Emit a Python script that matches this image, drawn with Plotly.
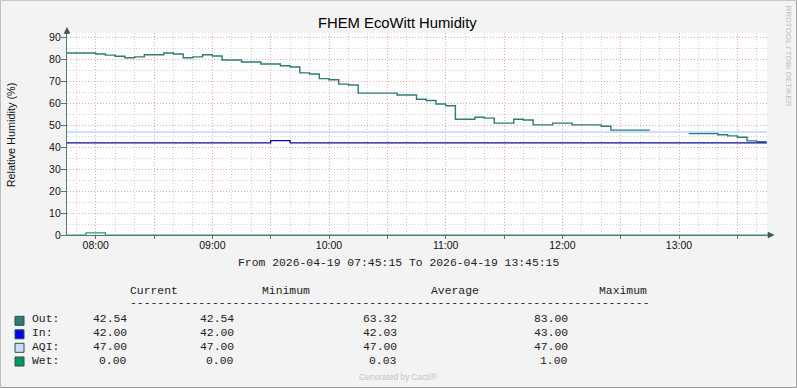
import pandas as pd
import plotly.graph_objects as go

# ---------------- data ----------------
out_start = "2026-04-19 07:45"
out_values = [
    83.0, 83.0, 83.0,                                               # 07:45-07:55
    82.5, 82.0, 81.5, 80.8, 81.2, 82.2, 82.2, 83.0, 82.5, 80.8, 81.2, 82.2,  # 08:xx
    81.6, 79.8, 79.8, 78.9, 78.9, 78.0, 78.0, 77.2, 76.6, 73.9, 73.4, 71.3,  # 09:xx
    70.8, 68.8, 68.4, 64.7, 64.7, 64.7, 64.7, 63.8, 63.8, 61.9, 61.3, 59.7,  # 10:xx
    58.9, 52.8, 52.8, 53.7, 53.3, 51.0, 51.0, 52.8, 52.4, 50.2, 50.2, 51.0,  # 11:xx
    51.0, 50.2, 50.2, 50.2, 49.6, 47.8, 47.8, 47.8, 47.8, 47.8, None, None,  # 12:xx
    None, 46.3, 46.3, 46.3, 45.7, 45.2, 44.6, 42.9, 42.5, 42.5,              # 13:00-13:45
]
out_times = pd.date_range(out_start, periods=len(out_values), freq="5min")

in_times = ["2026-04-19 07:45", "2026-04-19 09:30", "2026-04-19 09:40", "2026-04-19 13:45:15"]
in_values = [42, 43, 42, 42]

aqi_times = ["2026-04-19 07:45", "2026-04-19 13:45:15"]
aqi_values = [47, 47]

wet_times = ["2026-04-19 07:45", "2026-04-19 07:55", "2026-04-19 08:05", "2026-04-19 13:45:15"]
wet_values = [0, 1, 0, 0]

series_names = ["Out:", "In:", "AQI:", "Wet:"]
series_colors = ["#2E7B78", "#0000FF", "#C6E0FF", "#00966A"]
line_colors = ["#2E7B78", "#0A0AA0", "#B4D8FF", "#1F9C74"]
stat_headers = ["Current", "Minimum", "Average", "Maximum"]
stat_current = ["42.54", "42.00", "47.00", "0.00"]
stat_minimum = ["42.54", "42.00", "47.00", "0.00"]
stat_average = ["63.32", "42.03", "47.00", "0.03"]
stat_maximum = ["83.00", "43.00", "47.00", "1.00"]

x_start = "2026-04-19 07:45:15"
x_end = "2026-04-19 13:45:15"
title_text = "FHEM EcoWitt Humidity"
y_title = "Relative Humidity (%)"
period_text = "From 2026-04-19 07:45:15 To 2026-04-19 13:45:15"

# ---------------- layout helpers ----------------
W, H = 797, 388
L, R, T, B = 67, 30, 33, 153
PW, PH = W - L - R, H - T - B


def X(px):
    return (px - L) / PW


def Y(py):
    return (T + PH - py) / PH


AXIS = "#55786F"
RED = "#EBA6A6"
GRAY = "#D0D0D0"
MONO = "Liberation Mono, DejaVu Sans Mono, monospace"
SANS = "Liberation Sans, Arial, sans-serif"

fig = go.Figure()
all_times = [out_times, in_times, aqi_times, wet_times]
all_vals = [out_values, in_values, aqi_values, wet_values]
widths = [1.4, 1.3, 1.5, 1.2]
for name, t, v, c, w in zip(series_names, all_times, all_vals, line_colors, widths):
    fig.add_trace(go.Scatter(x=t, y=v, mode="lines", name=name,
                             line=dict(color=c, width=w, shape="hv"),
                             connectgaps=False, showlegend=False))

tickvals = pd.date_range("2026-04-19 08:00", "2026-04-19 13:30", freq="30min")
ticktext = [d.strftime("%H:%M") if d.minute == 0 else "" for d in tickvals]

fig.update_xaxes(
    type="date", range=[x_start, x_end],
    tickmode="array", tickvals=tickvals, ticktext=ticktext,
    showgrid=True, gridcolor=RED, griddash="1px,2px", gridwidth=1,
    minor=dict(tickmode="linear", tick0="2026-04-19 08:00", dtick=600000,
               showgrid=True, gridcolor=GRAY, griddash="1px,2px", gridwidth=1, ticks=""),
    showline=True, linecolor=AXIS, linewidth=1.3,
    ticks="outside", ticklen=3, tickcolor=AXIS,
    tickfont=dict(family=SANS, size=10.5, color="#111"),
    ticklabelstandoff=-3, zeroline=False, fixedrange=True,
)
fig.update_yaxes(
    range=[0, 92.1], tick0=0, dtick=10,
    showgrid=True, gridcolor=RED, griddash="1px,2px", gridwidth=1,
    minor=dict(dtick=5, showgrid=True, gridcolor=GRAY, griddash="1px,2px", gridwidth=1, ticks=""),
    showline=True, linecolor=AXIS, linewidth=1.3,
    ticks="outside", ticklen=5, tickcolor=AXIS,
    tickfont=dict(family=SANS, size=10.5, color="#111"),
    ticklabelstandoff=-2, zeroline=False, fixedrange=True,
)

shapes = []
# outer border
shapes.append(dict(type="line", xref="paper", yref="paper", x0=X(0.5), x1=X(W - 0.5), y0=Y(0.5), y1=Y(0.5), line=dict(color="#C8C8C8", width=1)))
shapes.append(dict(type="line", xref="paper", yref="paper", x0=X(0.5), x1=X(0.5), y0=Y(0.5), y1=Y(H - 0.5), line=dict(color="#BDBDBD", width=1)))
shapes.append(dict(type="line", xref="paper", yref="paper", x0=X(0.5), x1=X(W - 0.5), y0=Y(H - 0.5), y1=Y(H - 0.5), line=dict(color="#959595", width=1)))
shapes.append(dict(type="line", xref="paper", yref="paper", x0=X(W - 0.5), x1=X(W - 0.5), y0=Y(0.5), y1=Y(H - 0.5), line=dict(color="#A5A5A5", width=1)))
# axis arrows
shapes.append(dict(type="line", xref="paper", yref="paper", x0=X(67), x1=X(67), y0=Y(33), y1=Y(30), line=dict(color=AXIS, width=1.3)))
shapes.append(dict(type="path", xref="paper", yref="paper",
                   path=f"M {X(67)} {Y(27.5)} L {X(64)} {Y(33.5)} L {X(70)} {Y(33.5)} Z",
                   fillcolor="#365A50", line=dict(color="#365A50", width=0.5)))
shapes.append(dict(type="line", xref="paper", yref="paper", x0=X(767), x1=X(770), y0=Y(235), y1=Y(235), line=dict(color=AXIS, width=1.3)))
shapes.append(dict(type="path", xref="paper", yref="paper",
                   path=f"M {X(774)} {Y(235)} L {X(768)} {Y(232)} L {X(768)} {Y(238)} Z",
                   fillcolor="#365A50", line=dict(color="#365A50", width=0.5)))

annotations = []


def txt(text, px, py, size, family, color="#222", xanchor="left", yanchor="middle", angle=0):
    annotations.append(dict(text=text, x=X(px), y=Y(py), xref="paper", yref="paper",
                            xanchor=xanchor, yanchor=yanchor, showarrow=False, textangle=angle,
                            font=dict(size=size, family=family, color=color)))


txt(title_text, 397.5, 23.5, 14.8, SANS, color="#000", xanchor="center")
txt(y_title, 10.8, 134.5, 10.9, SANS, color="#111", xanchor="center", angle=-90)
txt("RRDTOOL / TOBI OETIKER", 788.5, 56, 8, SANS, color="#BDBDBD", xanchor="center", angle=90)
txt(period_text, 398, 263, 11.4, MONO, xanchor="center")

header_x = [128.3, 260, 429.3, 596.7]
for h, hx in zip(stat_headers, header_x):
    txt(h, hx, 291, 11.4, MONO)
txt("-" * 76, 128.3, 303, 11.4, MONO)

row_y = [318.9, 332.8, 346.7, 360.6]
square_y = [320.8, 334.3, 347.8, 361.5]
col_right = [128.8, 236, 399.3, 569.6]
for i, name in enumerate(series_names):
    shapes.append(dict(type="rect", xref="paper", yref="paper",
                       x0=X(15), x1=X(24), y0=Y(square_y[i] - 4.5), y1=Y(square_y[i] + 4.5),
                       fillcolor=series_colors[i], line=dict(color="#2F4F48", width=1)))
    txt(name, 30, row_y[i], 11.4, MONO)
    for col, vals in zip(col_right, [stat_current, stat_minimum, stat_average, stat_maximum]):
        txt(vals[i], col, row_y[i], 11.4, MONO, xanchor="right")

txt("Generated by Cacti®", 398, 377, 8.3, SANS, color="#C4C4C4", xanchor="center")

fig.update_layout(
    width=W, height=H, autosize=False,
    margin=dict(l=L, r=R, t=T, b=B, pad=0),
    paper_bgcolor="#F3F3F3", plot_bgcolor="#FFFFFF",
    shapes=shapes, annotations=annotations, showlegend=False,
)

fig.write_html("out.html", config={"displayModeBar": False},
               post_script="document.body.style.margin='0px';document.body.style.padding='0px';")
